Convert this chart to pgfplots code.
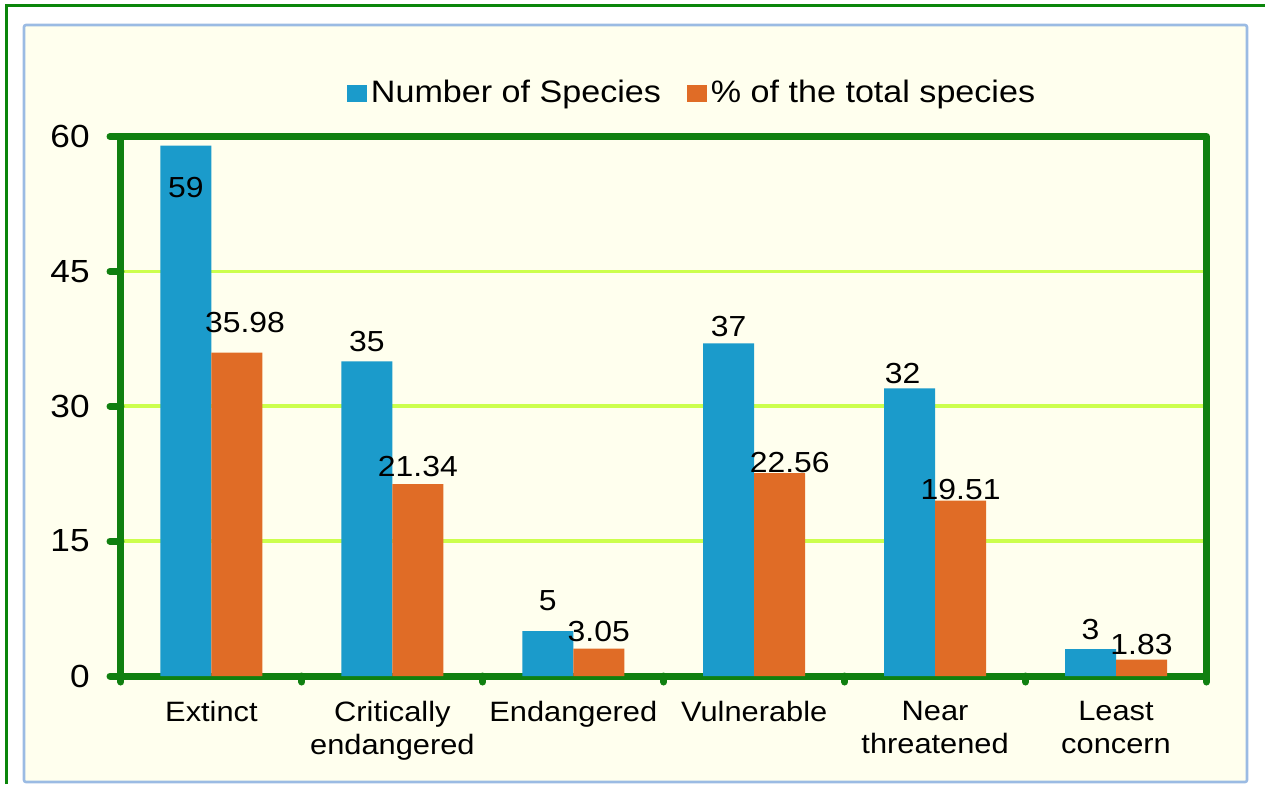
\documentclass[border=0pt]{standalone}
\usepackage{pgfplots}
\pgfplotsset{compat=1.18}
\usepackage{pgfplotstable}
\usepackage{fontspec}
\setmainfont{Liberation Sans}[FakeStretch=1.1]
\definecolor{barblue}{HTML}{1B9BCB}
\definecolor{barorange}{HTML}{E06C26}
\definecolor{axgreen}{HTML}{108010}
\definecolor{gridgreen}{HTML}{CCFF4D}
\definecolor{framblue}{HTML}{9BBBE3}
\definecolor{bgyellow}{HTML}{FFFFEE}
\definecolor{outgreen}{HTML}{0B860B}

% x = category position, y = value, lab = printed label, dx/dy = label offset (px)
\pgfplotstableread{
x y lab dx dy
0 59 59 0 -42
1 35 35 0 20
2 5 5 0 30
3 37 37 0 17
4 32 32 -7 15
5 3 3 0 20
}\species
\pgfplotstableread{
x y lab dx dy
0 35.98 35.98 8 30
1 21.34 21.34 0 18
2 3.05 3.05 0 17
3 22.56 22.56 10 11
4 19.51 19.51 0 11
5 1.83 1.83 0 15
}\percent

\begin{document}
\begin{tikzpicture}
\useasboundingbox (0,0) rectangle (632.5pt,-392pt);
% outer frame lines
\draw[outgreen, line width=1.5pt] (3.25pt,-392pt) -- (3.25pt,-2.5pt) -- (632.5pt,-2.5pt);
% chart area frame
\draw[framblue, line width=1.3pt, fill=bgyellow, rounded corners=1pt] (12pt,-12.5pt) rectangle (623.5pt,-391pt);
\begin{axis}[
  at={(60.5pt,-338pt)}, anchor=south west,
  width=542.75pt, height=269.75pt, scale only axis,
  xmin=-0.5, xmax=5.5, ymin=0, ymax=60,
  ybar=0pt, bar width=25.5pt,
  xtick={0,1,2,3,4,5},
  xticklabels={Extinct,{Critically\\endangered},Endangered,Vulnerable,{Near\\threatened},{Least\\concern}},
  minor xtick={-0.5,0.5,1.5,2.5,3.5,4.5,5.5},
  ytick={0,15,30,45,60},
  tick align=outside,
  xtick pos=bottom, ytick pos=left,
  major tick length=5.5pt, minor tick length=3pt,
  major x tick style={draw=none},
  minor x tick style={draw=axgreen, line width=3.5pt, line cap=round},
  ytick style={draw=axgreen, line width=3.5pt, line cap=round},
  axis line style={draw=axgreen, line width=3.5pt, line cap=round, line join=round},
  ymajorgrids, grid style={draw=gridgreen, line width=1.8pt},
  /pgf/number format/assume math mode=true,
  yticklabel style={font=\fontsize{16}{19}\selectfont, anchor=east, inner sep=0pt, xshift=-10pt},
  xticklabel style={font=\fontsize{14}{16.5}\selectfont, align=center, anchor=north, inner sep=0pt, yshift=-7pt},
  legend style={at={(0.527,1.0806)}, anchor=center, draw=none, fill=none,
    font=\fontsize{15.5}{18}\selectfont,
    /tikz/every even column/.append style={column sep=11pt}},
  legend columns=2,
  legend image code/.code={\fill[#1] (0pt,-4.25pt) rectangle (10pt,4.25pt);},
  nodes near coords,
  point meta=explicit symbolic,
  visualization depends on={\thisrow{dx} \as \dx},
  visualization depends on={\thisrow{dy} \as \dy},
  nodes near coords style={font=\fontsize{14.5}{17}\selectfont, text=black, anchor=center,
    xshift=\dx*0.5pt, yshift=\dy*0.5pt},
]
\addplot[fill=barblue, draw=none] table[x=x, y=y, meta=lab] {\species};
\addplot[fill=barorange, draw=none] table[x=x, y=y, meta=lab] {\percent};
\legend{Number of Species, \% of the total species}
\end{axis}
\end{tikzpicture}
\end{document}
